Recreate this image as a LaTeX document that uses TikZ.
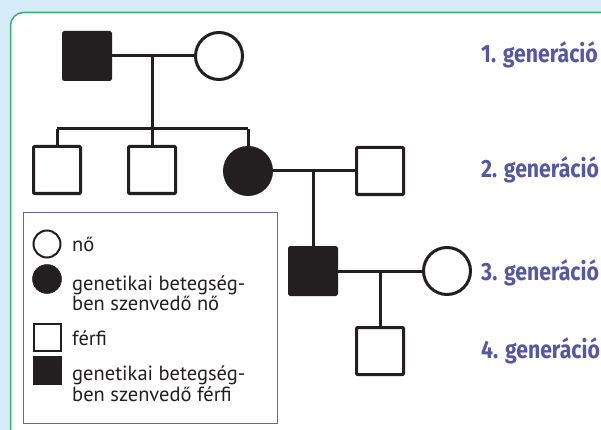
\documentclass[tikz,border=0pt]{standalone}
\usepackage{fontspec}
\setmainfont{PT Sans}
\newfontfamily\genfont[FakeStretch=0.85]{Fira Sans}
\definecolor{bgblue}{HTML}{D6ECF8}
\definecolor{panelgreen}{HTML}{2DB56A}
\definecolor{genblue}{HTML}{5656A6}
\definecolor{legblue}{HTML}{6262B2}
\definecolor{ink}{HTML}{231F20}
\tikzset{
  ped/.style={draw=ink, line width=3pt, inner sep=0pt, outer sep=0pt},
  msq/.style={ped, rectangle, minimum size=47pt, fill=white, rounded corners=1pt},
  fci/.style={ped, circle, minimum size=47pt, fill=white},
  aff/.style={fill=ink},
  link/.style={draw=ink, line width=3pt},
  leg/.style={draw=ink, line width=2pt, inner sep=0pt, outer sep=0pt, fill=white},
  lsq/.style={leg, rectangle, minimum size=27pt},
  lci/.style={leg, circle, minimum size=27pt},
  ltxt/.style={anchor=base west, inner sep=0pt, font=\fontsize{20.5}{21}\selectfont, text=ink},
  gen/.style={anchor=base west, inner sep=0pt, text=genblue, font=\genfont\bfseries\fontsize{25}{26}\selectfont}
}
\begin{document}
\begin{tikzpicture}[x=1pt,y=-1pt]
\useasboundingbox (0,0) rectangle (601,430);
\fill[bgblue] (0,0) rectangle (601,430);
\draw[panelgreen, line width=1.5pt, fill=white, rounded corners=13pt] (10.5,12.5) rectangle (640,470);

% generation 1
\node[msq, aff] (g1m) at (87,56) {};
\node[fci] (g1f) at (219,56) {};
\coordinate (m1) at (152,56);
\coordinate (s1) at (152,129);
\draw[link] (g1m) -- (g1f);
\draw[link] (m1) -- (s1);

% generation 2
\node[msq] (c1) at (57,170) {};
\node[msq] (c2) at (152,170) {};
\node[fci, aff] (c3) at (248,171) {};
\node[msq] (sp2) at (380,171) {};
\draw[link] (c1.north |- s1) -- (c3.north |- s1);
\draw[link] (c1.north |- s1) -- (c1.north);
\draw[link] (s1) -- (c2.north);
\draw[link] (c3.north |- s1) -- (c3.north);
\draw[link] (c3) -- (sp2);
\coordinate (m2) at (313,171);

% generation 3
\node[msq, aff] (g3m) at (313,271) {};
\node[fci] (g3f) at (447,271) {};
\draw[link] (m2) -- (g3m.north);
\draw[link] (g3m) -- (g3f);
\coordinate (m3) at (380,271);

% generation 4
\node[msq] (g4) at (380,351) {};
\draw[link] (m3) -- (g4.north);

% generation labels
\node[gen] (l1) at (481,63) {1. generáció};
\node[gen] (l2) at (481,178) {2. generáció};
\node[gen] (l3) at (481,280) {3. generáció};
\node[gen] (l4) at (481,358) {4. generáció};

% legend
\draw[legblue, line width=1pt] (23,212) rectangle (277,423);
\node[lci] (k1) at (47,244) {};
\node[ltxt] (t1) at (72,251.5) {nő};
\node[lci, fill=ink, minimum size=29pt, line width=0.5pt] (k2) at (47,279) {};
\node[ltxt] (t2a) at (72,290) {genetikai betegség-};
\node[ltxt] (t2b) at (72,310) {ben szenvedő nő};
\node[lsq] (k3) at (47,337) {};
\node[ltxt] (t3) at (72,345) {férfi};
\node[lsq, fill=ink] (k4) at (47,370.5) {};
\node[ltxt] (t4a) at (72,380.5) {genetikai betegség-};
\node[ltxt] (t4b) at (72,401.5) {ben szenvedő férfi};
\end{tikzpicture}
\end{document}
